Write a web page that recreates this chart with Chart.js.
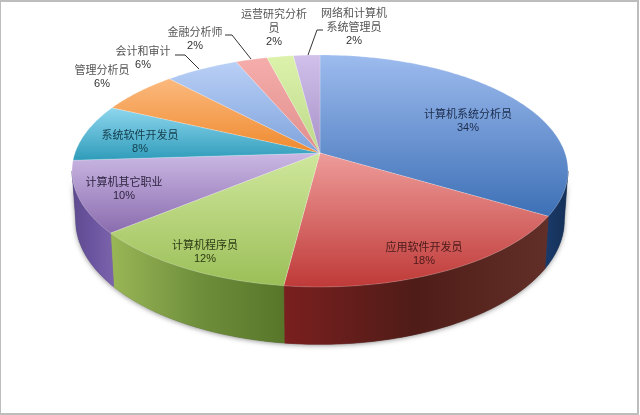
<!DOCTYPE html>
<html>
<head>
<meta charset="utf-8">
<style>
  html, body { margin: 0; padding: 0; background: #fff; }
  canvas { display: block; }
</style>
<script src="https://cdn.jsdelivr.net/npm/chart.js@4/dist/chart.umd.min.js"></script>
</head>
<body>
<canvas id="pie-chart" width="640" height="415"></canvas>
<script>
const categories = ['计算机系统分析员', '应用软件开发员', '计算机程序员', '计算机其它职业', '系统软件开发员',
  '管理分析员', '会计和审计', '金融分析师', '运营研究分析员', '网络和计算机系统管理员'];
const shares = [33.6, 18.4, 12, 10, 8, 6, 5.6, 2.4, 2, 2];

// wrapped label text, one entry per slice
const labelLines = [['计算机系统分析员'], ['应用软件开发员'], ['计算机程序员'], ['计算机其它职业'], ['系统软件开发员'],
  ['管理分析员'], ['会计和审计'], ['金融分析师'], ['运营研究分析', '员'], ['网络和计算机', '系统管理员']];
const labelSpots = [[468, 114], [424, 247], [205, 245], [124, 182], [140, 135],
  [102, 70], [143, 51], [195, 32], [274, 14], [354, 13]];
const labelColors = ['#1b2c4c', '#4a1a1a', '#2c3a14', '#2e2440', '#15404f', '#555', '#555', '#555', '#555', '#555'];
const leaders = [
  [[175, 55], [185, 55], [199, 69]],
  [[225, 35], [232, 35], [251, 59]],
  [[323, 30], [317, 30], [308, 55]]
];

// top face gradient (far, near) and side gradient (left, middle, right)
const faceLight = ['#9dbbee', '#ee9c9a', '#cfe79d', '#cbb8e4', '#8ed6ee', '#fbb97e', '#b9d0f6', '#f5adab', '#dcf2ab', '#d0c0ea'];
const faceDark = ['#3d70b6', '#bf3a38', '#9cbf58', '#8a6cae', '#2f9cba', '#ef8a2e', '#7fa3dc', '#e08f8d', '#bcd98a', '#a792c8'];
const sideLeft = ['#1a3a6c', '#7a1f1f', '#9ab756', '#5d4a8e', '#2f9cba', '#ef8a2e', '#7fa3dc', '#e08f8d', '#bcd98a', '#a792c8'];
const sideMid = ['#17355f', '#4f1c17', '#6f8f3c', '#6c55a0', '#2f9cba', '#ef8a2e', '#7fa3dc', '#e08f8d', '#bcd98a', '#a792c8'];
const sideRight = ['#14305a', '#622f28', '#587629', '#7c64ac', '#2f9cba', '#ef8a2e', '#7fa3dc', '#e08f8d', '#bcd98a', '#a792c8'];

const apexX = 320, apexY = 153, radiusX = 245, radiusY = 113.2, tilt = 0.155;
const topDisc = { sx: 1, sy: 1, dy: 0 };
const baseDisc = { sx: 0.985, sy: 1.07, dy: 48 };

// slice angle on the chart -> point on the tilted disc
function project(angle, disc) {
  const u = Math.cos(angle), v = -Math.sin(angle), k = 1 / (1 + tilt * v);
  return { x: apexX + radiusX * disc.sx * u * k, y: apexY + disc.dy - radiusY * disc.sy * v * k };
}

function rimPoints(start, end, disc) {
  const steps = Math.max(2, Math.ceil((end - start) / 0.02));
  const pts = [];
  for (let i = 0; i <= steps; i++) pts.push(project(start + (end - start) * i / steps, disc));
  return pts;
}

function tracePath(ctx, pts) {
  ctx.beginPath();
  pts.forEach((p, i) => i ? ctx.lineTo(p.x, p.y) : ctx.moveTo(p.x, p.y));
  ctx.closePath();
}

const pie3d = {
  id: 'pie3d',
  beforeDatasetDraw(chart) {
    const ctx = chart.ctx;
    const arcs = chart.getDatasetMeta(0).data;
    const nearFrom = Math.asin(tilt), nearTo = Math.PI - nearFrom;

    ctx.save();
    // soft shadow under the pie
    ctx.shadowColor = 'rgba(50,50,50,0.55)';
    ctx.shadowBlur = 5;
    ctx.shadowOffsetY = 1;
    ctx.fillStyle = '#555';
    tracePath(ctx, rimPoints(nearFrom, nearTo, topDisc).concat(rimPoints(nearFrom, nearTo, baseDisc).reverse()));
    ctx.fill();
    ctx.restore();

    // sides
    arcs.forEach((arc, i) => {
      const start = Math.max(arc.startAngle, nearFrom), end = Math.min(arc.endAngle, nearTo);
      if (end <= start) return;
      const upper = rimPoints(start, end, topDisc), lower = rimPoints(start, end, baseDisc);
      const xs = upper.concat(lower).map(p => p.x);
      const grad = ctx.createLinearGradient(Math.min(...xs), 0, Math.max(...xs), 0);
      grad.addColorStop(0, sideLeft[i]);
      grad.addColorStop(0.5, sideMid[i]);
      grad.addColorStop(1, sideRight[i]);
      tracePath(ctx, upper.concat(lower.slice().reverse()));
      ctx.fillStyle = grad;
      ctx.fill();
      ctx.strokeStyle = grad;
      ctx.lineWidth = 0.6;
      ctx.stroke();
    });

    // top faces
    arcs.forEach((arc, i) => {
      const rim = rimPoints(arc.startAngle, arc.endAngle, topDisc);
      const ys = rim.map(p => p.y).concat(apexY);
      const grad = ctx.createLinearGradient(0, Math.min(...ys), 0, Math.max(...ys));
      grad.addColorStop(0, faceLight[i]);
      grad.addColorStop(1, faceDark[i]);
      tracePath(ctx, [{ x: apexX, y: apexY }].concat(rim));
      ctx.fillStyle = grad;
      ctx.fill();
      ctx.strokeStyle = 'rgba(255,255,255,0.25)';
      ctx.lineWidth = 0.8;
      ctx.stroke();
    });
    return false;
  },
  afterDatasetsDraw(chart) {
    const ctx = chart.ctx;
    ctx.save();
    ctx.strokeStyle = '#333';
    ctx.lineWidth = 1;
    leaders.forEach(line => {
      ctx.beginPath();
      line.forEach((p, i) => i ? ctx.lineTo(p[0], p[1]) : ctx.moveTo(p[0], p[1]));
      ctx.stroke();
    });

    ctx.textAlign = 'center';
    ctx.textBaseline = 'middle';
    categories.forEach((name, i) => {
      const [x, y] = labelSpots[i];
      ctx.fillStyle = labelColors[i];
      ctx.font = '11px "Noto Sans CJK SC"';
      labelLines[i].forEach((line, n) => ctx.fillText(line, x, y + n * 14));
      ctx.font = '11px "Liberation Sans"';
      ctx.fillStyle = i < 5 ? labelColors[i] : '#333';
      ctx.fillText(Math.round(shares[i]) + '%', x, y + labelLines[i].length * 14);
    });

    // picture frame
    ctx.strokeStyle = '#bdbdbd';
    ctx.lineWidth = 2;
    ctx.strokeRect(0, 1, 638, 413);
    ctx.restore();
  }
};

new Chart(document.getElementById('pie-chart').getContext('2d'), {
  type: 'pie',
  data: {
    labels: categories,
    datasets: [{ data: shares, backgroundColor: faceDark, borderWidth: 0 }]
  },
  options: {
    responsive: false,
    animation: false,
    plugins: {
      legend: { display: false },
      tooltip: { enabled: false }
    }
  },
  plugins: [pie3d]
});
</script>
</body>
</html>
